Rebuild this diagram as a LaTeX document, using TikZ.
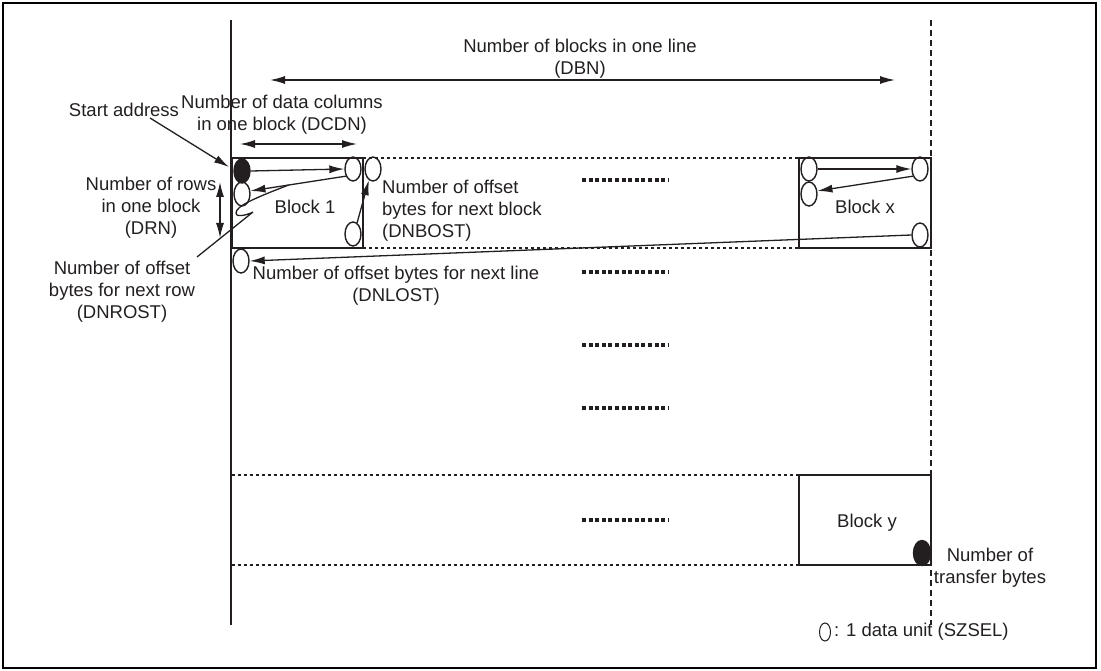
\documentclass[tikz,border=0pt]{standalone}
\usepackage{fontspec}
\setmainfont{Liberation Sans}
\usetikzlibrary{shapes.geometric,arrows.meta,calc}
\definecolor{ink}{HTML}{231F20}
\tikzset{
  txt/.style={font=\fontsize{18.5}{22}\selectfont, text=ink, inner sep=0pt, align=center},
  du/.style={ellipse, draw=ink, line width=1.4pt, minimum width=16pt, minimum height=24pt, inner sep=0pt},
  duf/.style={du, fill=ink},
  blk/.style={draw=ink, line width=2.8pt},
  dotl/.style={draw=ink, line width=2pt, dash pattern=on 3pt off 3pt},
  dotsep/.style={draw=ink, line width=4pt, dash pattern=on 4pt off 2.6pt},
  arr/.style={draw=ink, line width=1.3pt, -{Latex[length=15pt,width=8pt]}},
  darr/.style={draw=ink, line width=1.3pt, {Latex[length=15pt,width=8pt]}-{Latex[length=15pt,width=8pt]}},
  vdash/.style={draw=ink, line width=2.6pt, dash pattern=on 6pt off 4pt}
}
\begin{document}
\begin{tikzpicture}[x=1pt,y=-1pt]
\useasboundingbox (0,0) rectangle (1101,671);
% frame
\draw[line width=2.2pt] (3,3) rectangle (1096,668);
% main vertical lines
\draw[draw=ink, line width=2.8pt] (231,20) -- (231,625);
\draw[vdash] (931,20) -- (931,625);
% dotted row boundaries
\draw[dotl] (363,158) -- (799,158);
\draw[dotl] (363,248) -- (799,248);
\draw[dotl] (232,475) -- (799,475);
\draw[dotl] (232,565) -- (799,565);
% separator dots
\foreach \yy in {180,272,345,408,520} \draw[dotsep] (582,\yy) -- (668,\yy);
% blocks
\draw[blk] (232,158) rectangle (363,248);
\draw[blk] (799,158) rectangle (931,248);
\draw[blk] (799,475) rectangle (931,565);
\node[txt] (b1t) at (305,207) {Block 1};
\node[txt] (bxt) at (865,207) {Block x};
\node[txt] (byt) at (867,523) {Block y};
% data units block 1
\node[duf] (e1) at (242,171) {};
\node[du] (e2) at (353,169) {};
\node[du] (e3) at (242,194) {};
\node[du] (e4) at (353,234) {};
\node[du] (e5) at (373,169) {};
\node[du] (e6) at (241,261) {};
% data units block x
\node[du] (x1) at (809,169) {};
\node[du] (x2) at (920,169) {};
\node[du] (x3) at (809,194) {};
\node[du] (x4) at (920,235) {};
% block y
\node[duf, minimum width=17pt, minimum height=25pt] (y1) at (922,553) {};
% arrows in blocks
\draw[arr] (e1.east) -- (e2.west);
\draw[arr] (e2.225) -- (e3.20);
\draw[arr] (e4.70) -- (e5.250);
\draw[arr] (x1.east) -- (x2.west);
\draw[arr] (x2.225) -- (x3.20);
\draw[arr] (x4.west) -- (e6.east);
% DBN
\node[txt] (dbn) at (580,59) {Number of blocks in one line\\(DBN)};
\coordinate (dbnL) at (270,80);
\coordinate (dbnR) at (895,80);
\draw[darr] (dbnL) -- (dbnR);
% DCDN
\node[txt] (dcdn) at (282,115) {Number of data columns\\in one block (DCDN)};
\coordinate (dcL) at (240,144);
\coordinate (dcR) at (357,144);
\draw[darr] (dcL) -- (dcR);
% DRN
\node[txt] (drn) at (151,208) {Number of rows\\in one block\\(DRN)};
\coordinate (drT) at (220,182);
\coordinate (drB) at (220,238);
\draw[darr] (drT) -- (drB);
% start address
\node[txt] (sa) at (124,110) {Start address};
\coordinate (saS) at (150,118);
\coordinate (saT) at (229,167);
\draw[arr] (saS) -- (saT);
% DNROST
\node[txt] (dnrost) at (122,292) {Number of offset\\bytes for next row\\(DNROST)};
\coordinate (sq1) at ($(e2.225)!0.6!(e3.20)$);
\coordinate (sq2) at (197,257);
\draw[draw=ink, line width=1.3pt] (sq1) .. controls (255,198) and (236,206) .. (236,213) .. controls (236,219) and (252,213) .. (253,212) -- (sq2);
% DNLOST
\node[txt] (dnlost) at (396,286) {Number of offset bytes for next line\\(DNLOST)};
% DNBOST
\node[txt, anchor=west, align=left] (dnbost) at (382,211) {Number of offset\\bytes for next block\\(DNBOST)};
% transfer bytes
\node[txt] (tb) at (990,568) {Number of\\transfer bytes};
% legend
\node[ellipse, draw=ink, line width=1pt, minimum width=11pt, minimum height=18pt, inner sep=0pt] (leg) at (825,632) {};
\node[txt, anchor=west] (legt) at (834,632) {: 1 data unit (SZSEL)};
\end{tikzpicture}
\end{document}
